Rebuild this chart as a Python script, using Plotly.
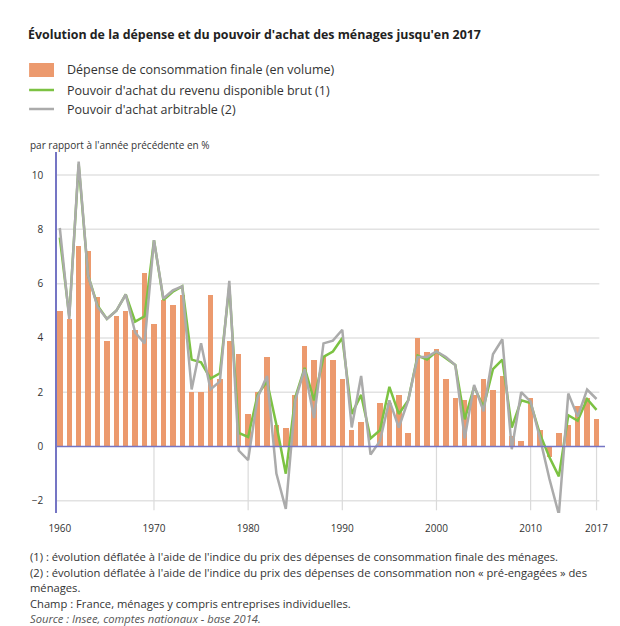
import plotly.graph_objects as go

years = list(range(1960, 2018))

consommation = [5.0, 4.7, 7.4, 7.2, 5.5, 3.9, 4.8, 5.0, 4.3, 6.4,
                4.5, 5.4, 5.2, 5.6, 2.0, 2.0, 5.6, 2.5, 3.9, 3.4,
                1.2, 2.0, 3.3, 0.8, 0.7, 1.9, 3.7, 3.2, 3.3, 3.2,
                2.5, 0.6, 0.9, 0.0, 1.6, 1.6, 1.9, 0.5, 4.0, 3.5,
                3.6, 2.5, 1.8, 1.7, 1.9, 2.5, 2.1, 2.6, 0.4, 0.2,
                1.8, 0.6, -0.4, 0.5, 0.8, 1.5, 1.8, 1.0]

pouvoir_rdb = [7.7, 4.8, 10.4, 6.3, 5.2, 4.7, 5.0, 5.6, 4.6, 4.8,
               7.6, 5.4, 5.7, 5.9, 3.2, 3.1, 2.5, 2.7, 5.9, 0.5,
               0.35, 1.9, 2.4, 0.8, -1.0, 1.8, 2.9, 1.7, 3.3, 3.5,
               4.0, 1.2, 1.9, 0.3, 0.6, 2.2, 1.2, 1.7, 3.35, 3.2,
               3.5, 3.25, 3.0, 1.0, 2.2, 1.45, 2.85, 3.2, 0.7, 1.7,
               1.6, 0.45, -0.4, -1.1, 1.15, 0.95, 1.75, 1.35]

pouvoir_arb = [8.05, 4.7, 10.5, 6.3, 5.15, 4.7, 5.0, 5.6, 4.2, 3.8,
               7.6, 5.45, 5.75, 5.9, 2.1, 3.8, 2.1, 2.4, 6.1, -0.15,
               -0.5, 1.8, 2.6, -1.0, -2.3, 1.7, 2.85, 1.05, 3.8, 3.9,
               4.3, 0.7, 2.6, -0.3, 0.2, 1.7, 0.7, 1.7, 3.3, 3.3,
               3.5, 3.3, 3.0, 0.3, 2.27, 1.3, 3.4, 3.95, -0.1, 2.0,
               1.65, 0.3, -1.2, -2.5, 1.95, 1.1, 2.1, 1.75]

x_ticks = [1960, 1970, 1980, 1990, 2000, 2010, 2017]
y_ticks = [-2, 0, 2, 4, 6, 8, 10]

names = ["Dépense de consommation finale (en volume)",
         "Pouvoir d'achat du revenu disponible brut (1)",
         "Pouvoir d'achat arbitrable (2)"]

footnotes = [
    "(1) : évolution déflatée à l'aide de l'indice du prix des dépenses de consommation finale des ménages.",
    "(2) : évolution déflatée à l'aide de l'indice du prix des dépenses de consommation non « pré-engagées » des",
    "ménages.",
    "Champ : France, ménages y compris entreprises individuelles.",
    "<i>Source : Insee, comptes nationaux - base 2014.</i>",
]

ORANGE = "#EC9A6E"
GREEN = "#7CC243"
GREY = "#ABABAB"
AXIS_BLUE = "#7575C4"
GRID = "#E2E2E2"
TXT = "#333333"
FONT = "Open Sans"

# page is rendered with an 8px body margin: figure pixel = page pixel - 8
OFF = 8
W, H = 612, 618
ML, MR, MT, MB = 57 - OFF, 13, 152 - OFF, 113
X_RANGE = [1959.7, 2017.9]
Y_RANGE = [-2.45, 10.85]

plot_w = W - ML - MR
plot_h = H - MT - MB


def px(p):
    return (p - OFF - ML) / plot_w


def py(p):
    return (H - MB - (p - OFF)) / plot_h


fig = go.Figure()
fig.add_trace(go.Bar(x=years, y=consommation, name=names[0],
                     marker=dict(color=ORANGE, line=dict(width=0)),
                     width=0.58, showlegend=False))
fig.add_trace(go.Scatter(x=years, y=pouvoir_rdb, name=names[1], mode="lines",
                         line=dict(color=GREEN, width=2.5), showlegend=False))
fig.add_trace(go.Scatter(x=years, y=pouvoir_arb, name=names[2], mode="lines",
                         line=dict(color=GREY, width=2.5), showlegend=False))

shapes = []
for v in y_ticks:
    if v == 0:
        continue
    shapes.append(dict(type="line", xref="x", yref="y", x0=X_RANGE[0], x1=2017.3,
                       y0=v, y1=v, line=dict(color=GRID, width=1.5), layer="below"))
for t in x_ticks[1:]:
    shapes.append(dict(type="line", xref="x", yref="y", x0=t, x1=t,
                       y0=0, y1=-2.35, line=dict(color="#DADADA", width=1.2), layer="below"))
shapes.append(dict(type="line", xref="x", yref="y", x0=X_RANGE[0], x1=X_RANGE[1],
                   y0=0, y1=0, line=dict(color=AXIS_BLUE, width=1.5), layer="above"))

# legend (drawn manually to match the reference symbols)
shapes.append(dict(type="rect", xref="paper", yref="paper",
                   x0=px(29), x1=px(54), y0=py(77), y1=py(63),
                   fillcolor=ORANGE, line=dict(width=0)))
shapes.append(dict(type="line", xref="paper", yref="paper",
                   x0=px(29), x1=px(54), y0=py(90), y1=py(90),
                   line=dict(color=GREEN, width=2.5)))
shapes.append(dict(type="line", xref="paper", yref="paper",
                   x0=px(29), x1=px(54), y0=py(109), y1=py(109),
                   line=dict(color=GREY, width=2.5)))

annotations = []
for nm, yy in zip(names, [70, 90, 109]):
    annotations.append(dict(text=nm, xref="paper", yref="paper", x=px(65), y=py(yy),
                            xanchor="left", yanchor="middle", showarrow=False,
                            font=dict(family=FONT, size=12.5, color=TXT)))
annotations.append(dict(text="par rapport à l'année précédente en %", xref="paper", yref="paper",
                        x=px(28), y=py(145), xanchor="left", yanchor="middle",
                        showarrow=False, font=dict(family=FONT, size=10, color=TXT)))
for i, (t, yy) in enumerate(zip(footnotes, [556, 572, 587, 603, 618])):
    annotations.append(dict(text=t, xref="paper", yref="paper",
                            x=px(28), y=py(yy),
                            xanchor="left", yanchor="middle", showarrow=False,
                            font=dict(family=FONT, size=11.2,
                                      color="#555555" if i == 4 else TXT)))

fig.update_layout(
    width=W, height=H,
    margin=dict(l=ML, r=MR, t=MT, b=MB),
    paper_bgcolor="white", plot_bgcolor="white",
    font=dict(family=FONT, color=TXT),
    title=dict(text="<b>Évolution de la dépense et du pouvoir d'achat des ménages jusqu'en 2017</b>",
               x=(28 - OFF) / W, xanchor="left", xref="container",
               y=1 - (35 - OFF) / H, yanchor="middle", yref="container",
               font=dict(family=FONT, size=12.4, color="#222222")),
    showlegend=False,
    bargap=0,
    xaxis=dict(range=X_RANGE, tickvals=x_ticks, ticktext=[str(t) for t in x_ticks],
               showgrid=False, zeroline=False, showline=False, ticks="",
               tickfont=dict(family=FONT, size=10, color=TXT), ticklabelstandoff=8),
    yaxis=dict(range=Y_RANGE, tickvals=y_ticks, showgrid=False, zeroline=False,
               showline=True, linecolor=AXIS_BLUE, linewidth=1.5, ticks="",
               tickfont=dict(family=FONT, size=10, color=TXT), ticklabelstandoff=10),
    shapes=shapes,
    annotations=annotations,
)

fig.write_html("out.html")
